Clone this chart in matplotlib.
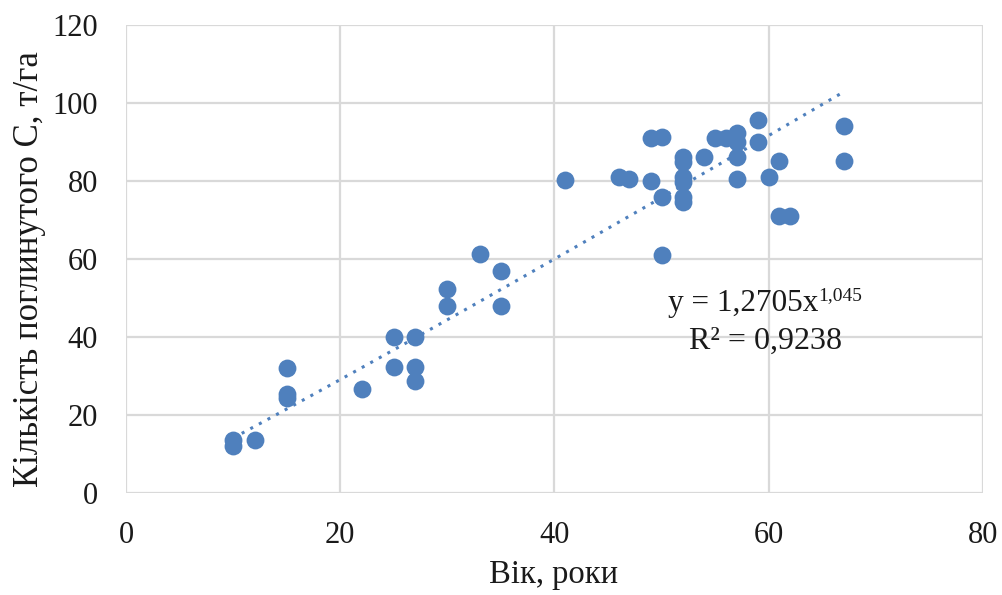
import numpy as np
import matplotlib
matplotlib.use("Agg")
import matplotlib.pyplot as plt

age = [10, 10, 12, 15, 15, 15, 22, 25, 25, 27, 27, 27, 30, 30, 33, 35, 35,
       41, 46, 47, 49, 49, 50, 50, 50, 52, 52, 52, 52, 52, 52, 54, 55, 56,
       57, 57, 57, 57, 59, 59, 60, 61, 61, 62, 67, 67]
carbon = [13.6, 12.0, 13.6, 32.0, 25.3, 24.4, 26.6, 40.0, 32.2, 40.0, 32.4, 28.8,
          52.2, 47.9, 61.4, 57.0, 47.9,
          80.2, 80.9, 80.5, 91.0, 80.0, 91.2, 76.0, 61.0, 86.2, 84.8, 81.1, 79.8,
          76.0, 74.7, 86.2, 91.0, 91.0,
          92.2, 90.1, 86.2, 80.5, 95.7, 90.1, 80.9, 85.1, 70.9, 70.9, 94.0, 85.1]

coef_a = 1.2705
coef_b = 1.045
x_ticks = [0, 20, 40, 60, 80]
y_ticks = [0, 20, 40, 60, 80, 100, 120]

plt.rcParams['font.family'] = ['Liberation Serif', 'DejaVu Serif']

W, H = 1002, 595
fig = plt.figure(figsize=(W / 100, H / 100), dpi=100)
L, R, T, B = 126, 983, 25, 493
ax = fig.add_axes([L / W, 1 - B / H, (R - L) / W, (B - T) / H])

color = '#4F80BD'
txt = '#1a1a1a'
ax.scatter(age, carbon, s=165, color=color, zorder=3, linewidths=0)

xs = np.linspace(min(age), max(age), 200)
ax.plot(xs, coef_a * xs ** coef_b, linestyle=(0, (1, 2.2)), color=color,
        linewidth=2.2, zorder=2)

ax.set_xlim(0, 80)
ax.set_ylim(0, 120)
ax.set_xticks(x_ticks)
ax.set_yticks(y_ticks)
ax.grid(True, color='#d9d9d9', linewidth=1.6, zorder=0)
ax.set_axisbelow(True)
for s in ax.spines.values():
    s.set_visible(False)
ax.tick_params(length=0, labelsize=22, colors=txt)
ax.tick_params(axis='y', pad=20)
ax.tick_params(axis='x', pad=20)

fig.text(554 / W, 1 - 583 / H, 'Вік, роки', fontsize=23.5, color=txt,
         ha='center', va='baseline')
fig.text(38 / W, 1 - 269 / H, 'Кількість поглинутого С, т/га', fontsize=25, color=txt,
         rotation=90, rotation_mode='anchor', ha='center', va='baseline')

# trendline label
ex = (818 - L) / (R - L) * 80
ey = (B - 311) / (B - T) * 120
ax.text(ex, ey, 'y = 1,2705x', fontsize=22.5, color=txt, ha='right', va='baseline')
ax.annotate('1,045', xy=(ex, ey), xytext=(0, 8), textcoords='offset points',
            fontsize=14, color=txt, ha='left', va='baseline')
rx = (766 - L) / (R - L) * 80
ry = (B - 349) / (B - T) * 120
ax.text(rx, ry, 'R² = 0,9238', fontsize=23, color=txt, ha='center', va='baseline')

fig.savefig('out.png', dpi=100)
